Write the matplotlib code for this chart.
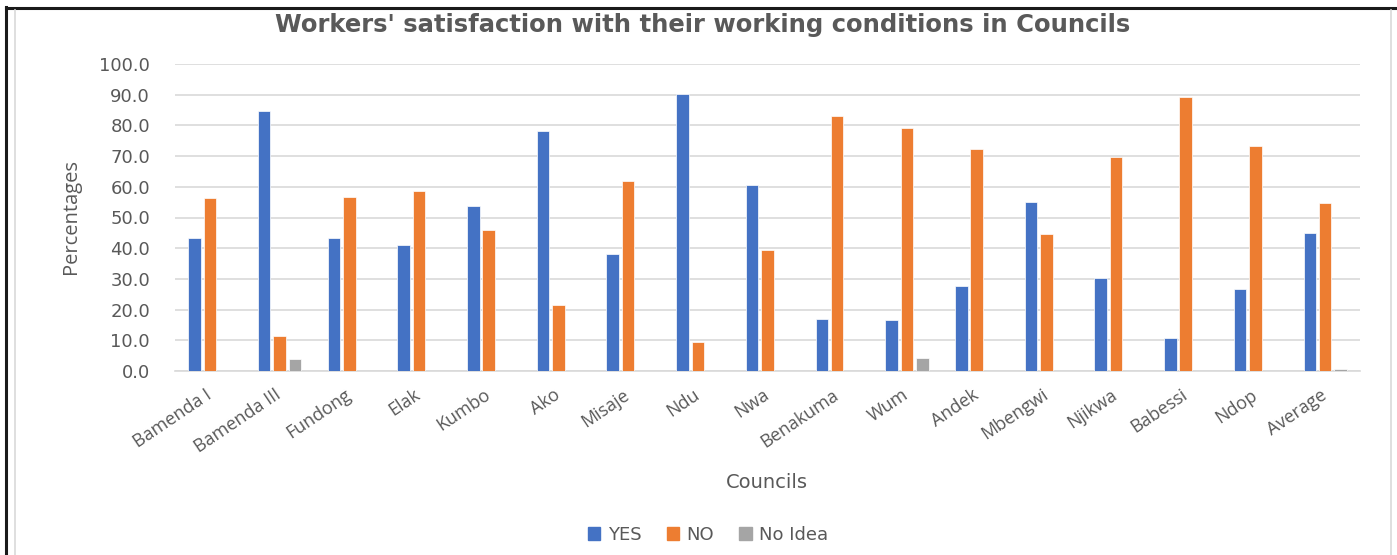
import numpy as np
import matplotlib
matplotlib.use("Agg")
import matplotlib.pyplot as plt
from matplotlib.patches import Rectangle
from matplotlib.lines import Line2D

councils = ["Bamenda I", "Bamenda III", "Fundong", "Elak", "Kumbo", "Ako", "Misaje",
            "Ndu", "Nwa", "Benakuma", "Wum", "Andek", "Mbengwi", "Njikwa", "Babessi",
            "Ndop", "Average"]
yes_pct = [43.4, 84.6, 43.2, 41.2, 53.8, 78.3, 38.1, 90.3, 60.6, 17.0, 16.7, 27.6,
           55.1, 30.3, 10.8, 26.7, 44.8]
no_pct = [56.5, 11.4, 56.7, 58.7, 46.0, 21.6, 61.9, 9.6, 39.3, 82.9, 79.1, 72.4,
          44.7, 69.7, 89.1, 73.3, 54.6]
no_idea_pct = [0.0, 3.8, 0.0, 0.0, 0.0, 0.0, 0.0, 0.0, 0.0, 0.0, 4.1, 0.0,
               0.0, 0.0, 0.0, 0.0, 0.5]
series_names = ["YES", "NO", "No Idea"]
y_ticks = np.arange(0, 101, 10)

colors = ["#4472C4", "#ED7D31", "#A5A5A5"]
text_color = "#595959"
grid_color = "#D9D9D9"

W, H = 1397, 555
fig = plt.figure(figsize=(W / 100, H / 100), dpi=100)
fig.patch.set_facecolor("white")

# outer frame: dark lines on the left and top, light chart border inside
fig.add_artist(Line2D([6 / W, 6 / W], [0, 1 - 7 / H], color="#1a1a1a", lw=2.2,
                      transform=fig.transFigure))
fig.add_artist(Line2D([6 / W, 1], [1 - 8 / H, 1 - 8 / H], color="#1a1a1a", lw=2.2,
                      transform=fig.transFigure))
fig.add_artist(Line2D([15 / W, 15 / W], [0, 1 - 10 / H], color="#D9D9D9", lw=1.2,
                      transform=fig.transFigure))
fig.add_artist(Line2D([1391 / W, 1391 / W], [0, 1 - 10 / H], color="#D9D9D9", lw=1.2,
                      transform=fig.transFigure))

left, right = 175 / W, 1360 / W
bottom, top = 1 - 371 / H, 1 - 64 / H
ax = fig.add_axes([left, bottom, right - left, top - bottom])

x = np.arange(len(councils))
step = 0.22
width = 0.18
for i, (vals, name) in enumerate(zip([yes_pct, no_pct, no_idea_pct], series_names)):
    ax.bar(x + (i - 1) * step, vals, width=width, color=colors[i], label=name,
           edgecolor="white", linewidth=0.5, zorder=3)

ax.set_xlim(-0.5, len(councils) - 0.5)
ax.set_ylim(0, 100)
ax.set_yticks(y_ticks)
ax.set_yticklabels([f"{v:.1f}" for v in y_ticks], fontsize=13, color=text_color,
                   family="DejaVu Sans")
ax.set_xticks(x)
ax.set_xticklabels(councils, rotation=34, ha="right", va="center", rotation_mode="anchor",
                   fontsize=13, color=text_color, family="Open Sans")
ax.tick_params(axis="both", length=0)
ax.tick_params(axis="y", pad=18)
ax.tick_params(axis="x", pad=16)

ax.grid(axis="y", color=grid_color, lw=1.2, zorder=0)
for s in ["top", "right", "left"]:
    ax.spines[s].set_visible(False)
ax.spines["bottom"].set_color(grid_color)
ax.spines["bottom"].set_linewidth(1.2)

fig.text(71 / W, 1 - 217 / H, "Percentages", rotation=90, ha="center", va="center",
         fontsize=14.5, color=text_color,
         family=["Liberation Sans Narrow", "Open Sans"])
fig.text(767 / W, 1 - 482 / H, "Councils", ha="center", va="center", fontsize=14,
         color=text_color, family="DejaVu Sans")

fig.text(703 / W, 1 - 25 / H,
         "Workers' satisfaction with their working conditions in Councils",
         ha="center", va="center", fontsize=17.5, fontweight="bold", color=text_color,
         family="DejaVu Sans")

handles = [Rectangle((0, 0), 1, 1, color=c) for c in colors]
fig.legend(handles, series_names, loc="center", bbox_to_anchor=(708 / W, 1 - 535 / H),
           ncol=3, frameon=False, labelcolor=text_color,
           handlelength=0.7, handleheight=0.7, handletextpad=0.4, columnspacing=1.4,
           prop={"family": "DejaVu Sans", "size": 13})

fig.savefig("out.png", dpi=100, facecolor="white")
